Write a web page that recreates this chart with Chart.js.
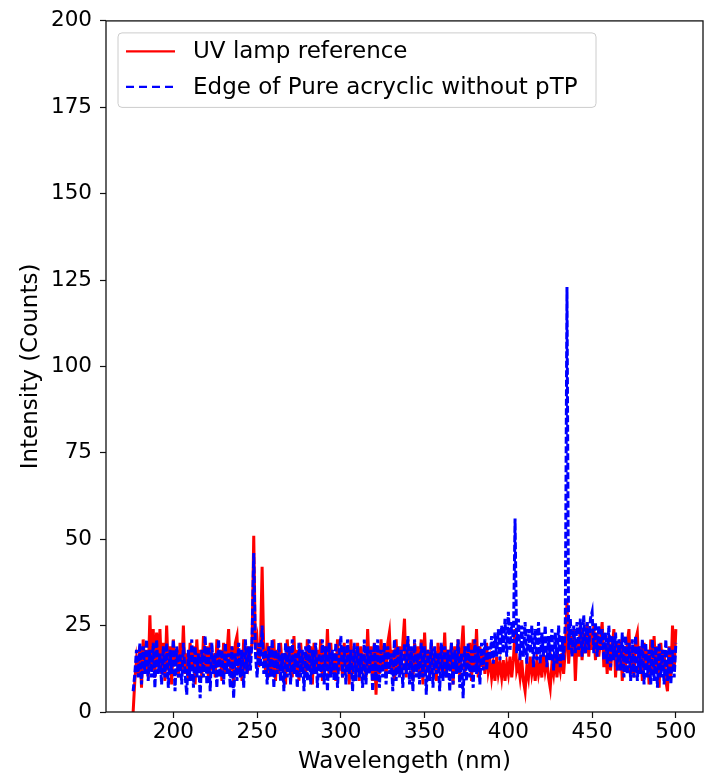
<!DOCTYPE html>
<html>
<head>
<meta charset="utf-8">
<title>UV lamp reference vs edge of pure acrylic</title>
<script src="https://cdn.jsdelivr.net/npm/chart.js@4.4.1/dist/chart.umd.min.js"></script>
<style>
  html, body { margin: 0; padding: 0; background: #fff; }
  #wrap { width: 713px; height: 774px; }
</style>
</head>
<body>
<div id="wrap"><canvas id="spectrum" width="713" height="774"></canvas></div>
<script>
// wavelength sampling of the spectrometer (nm), one value per nm from 176 to 500
const wlStart = 176;
const wlStep = 1;

// UV lamp reference, counts
const uvLamp = [
  0, 9, 15, 11, 19, 7, 21, 12, 18, 10,
  28, 12, 24, 10, 23, 13, 24, 11, 20, 9,
  25, 12, 19, 8, 21, 14, 18, 10, 20, 12,
  25, 11, 17, 9, 20, 13, 19, 8, 21, 12,
  18, 10, 22, 13, 19, 9, 20, 12, 17, 10,
  21, 13, 18, 9, 20, 11, 17, 24, 12, 19,
  8, 20, 22, 11, 18, 9, 21, 12, 19, 14,
  17, 20, 51, 18, 21, 13, 19, 42, 17, 12,
  20, 10, 19, 12, 21, 9, 18, 11, 20, 13,
  17, 8, 21, 12, 19, 10, 22, 11, 18, 9,
  20, 13, 17, 10, 21, 12, 19, 8, 20, 11,
  18, 13, 21, 9, 19, 12, 24, 10, 20, 11,
  17, 9, 21, 12, 18, 10, 20, 13, 19, 8,
  21, 11, 18, 12, 20, 9, 19, 13, 17, 10,
  24, 12, 19, 9, 20, 5, 18, 11, 21, 13,
  19, 10, 20, 23, 12, 18, 9, 21, 11, 19,
  12, 20, 27, 10, 21, 13, 18, 9, 20, 12,
  19, 11, 21, 8, 23, 12, 18, 10, 20, 13,
  17, 9, 20, 12, 19, 11, 23, 10, 18, 13,
  20, 8, 19, 12, 21, 10, 18, 25, 11, 19,
  13, 20, 9, 21, 12, 24, 10, 19, 13, 18,
  11, 20, 12, 15, 10, 14, 9, 16, 11, 14,
  10, 15, 9, 14, 11, 16, 10, 15, 24, 12,
  14, 10, 15, 9, 6, 13, 10, 16, 11, 14,
  9, 15, 11, 14, 10, 17, 12, 15, 10, 7,
  14, 11, 16, 10, 15, 12, 17, 11, 18, 32,
  14, 22, 17, 24, 9, 21, 16, 25, 15, 23,
  17, 26, 16, 24, 18, 25, 15, 23, 16, 21,
  26, 13, 20, 11, 22, 12, 19, 24, 10, 20,
  12, 21, 9, 19, 13, 20, 24, 11, 18, 10,
  21, 23, 12, 19, 9, 20, 13, 18, 8, 21,
  11, 22, 12, 19, 7, 20, 13, 18, 9, 6,
  19, 10, 25, 12, 24
];

// edge of pure acrylic without pTP, counts
const acrylicEdge = [
  6, 11, 18, 10, 20, 8, 19, 11, 21, 9,
  18, 10, 20, 7, 21, 11, 17, 8, 19, 10,
  20, 7, 18, 11, 21, 6, 19, 10, 17, 8,
  20, 11, 5, 18, 9, 21, 7, 19, 10, 17,
  4, 18, 10, 22, 8, 19, 6, 20, 11, 17,
  7, 21, 10, 18, 8, 20, 11, 17, 7, 19,
  4, 17, 9, 20, 10, 18, 7, 21, 11, 19,
  12, 21, 46, 17, 10, 20, 13, 25, 11, 18,
  8, 19, 10, 21, 7, 18, 11, 20, 9, 17,
  6, 20, 10, 19, 8, 21, 11, 17, 7, 20,
  10, 18, 6, 19, 9, 21, 8, 18, 11, 20,
  7, 17, 10, 21, 8, 19, 6, 20, 10, 18,
  9, 20, 7, 17, 22, 10, 19, 8, 21, 11,
  18, 6, 20, 9, 19, 10, 17, 7, 21, 8,
  19, 11, 18, 6, 20, 9, 21, 7, 18, 10,
  20, 8, 19, 11, 17, 6, 21, 9, 19, 10,
  18, 7, 20, 11, 22, 8, 19, 6, 21, 10,
  17, 8, 20, 10, 19, 5, 18, 9, 21, 7,
  19, 11, 17, 6, 20, 9, 19, 10, 18, 6,
  20, 8, 18, 11, 21, 7, 17, 4, 19, 9,
  20, 10, 18, 7, 21, 11, 19, 8, 20, 12,
  21, 12, 19, 15, 22, 14, 23, 16, 24, 15,
  25, 17, 27, 16, 29, 18, 26, 20, 56, 17,
  27, 15, 25, 16, 26, 14, 24, 17, 25, 13,
  24, 15, 26, 14, 23, 16, 25, 13, 22, 15,
  24, 12, 23, 14, 25, 13, 22, 15, 26, 123,
  18, 27, 16, 25, 17, 26, 18, 27, 16, 28,
  17, 26, 18, 27, 29, 17, 26, 16, 25, 18,
  24, 15, 23, 14, 25, 13, 22, 15, 23, 12,
  21, 12, 23, 10, 22, 11, 20, 9, 21, 10,
  22, 9, 19, 11, 21, 8, 20, 10, 18, 8,
  21, 9, 19, 7, 20, 10, 18, 8, 21, 9,
  19, 8, 18, 10, 20
];

const xTicks = [200, 250, 300, 350, 400, 450, 500];
const yTicks = [0, 25, 50, 75, 100, 125, 150, 175, 200];
const xRange = [159.8, 516.2];
const yRange = [0, 200];

const FONT = '"DejaVu Sans", "Liberation Sans", sans-serif';

function toPoints(values) {
  return values.map((v, i) => ({ x: wlStart + i * wlStep, y: v }));
}

// black box round the plot area, like the matplotlib spines
const frame = {
  id: 'frame',
  afterDatasetsDraw(chart) {
    const { ctx, chartArea: a } = chart;
    ctx.save();
    ctx.strokeStyle = '#111';
    ctx.lineWidth = 1.3;
    ctx.strokeRect(a.left, a.top, a.right - a.left, a.bottom - a.top);
    ctx.restore();
  }
};

// legend box drawn inside the axes, top left
const insideLegend = {
  id: 'insideLegend',
  afterDraw(chart) {
    const { ctx, chartArea: a } = chart;
    const x = a.left + 12, y = a.top + 12, w = 478, h = 74.5;
    ctx.save();
    ctx.beginPath();
    ctx.roundRect(x, y, w, h, 4);
    ctx.fillStyle = 'rgba(255,255,255,0.8)';
    ctx.fill();
    ctx.strokeStyle = '#cccccc';
    ctx.lineWidth = 1;
    ctx.stroke();
    ctx.font = '23px ' + FONT;
    ctx.textBaseline = 'middle';
    chart.data.datasets.forEach((ds, i) => {
      const rowY = y + 18.5 + i * 35.5;
      ctx.beginPath();
      ctx.setLineDash(ds.borderDash ? [8, 5] : []);
      ctx.strokeStyle = ds.borderColor;
      ctx.lineWidth = 2.2;
      ctx.moveTo(x + 8, rowY);
      ctx.lineTo(x + 57, rowY);
      ctx.stroke();
      ctx.setLineDash([]);
      ctx.fillStyle = '#000';
      ctx.fillText(ds.label, x + 75, rowY + 1);
    });
    ctx.restore();
  }
};

new Chart(document.getElementById('spectrum'), {
  type: 'line',
  data: {
    datasets: [
      {
        label: 'UV lamp reference',
        data: toPoints(uvLamp),
        borderColor: '#ff0000',
        borderWidth: 3,
        pointRadius: 0,
        fill: false,
        tension: 0,
        order: 2
      },
      {
        label: 'Edge of Pure acryclic without pTP',
        data: toPoints(acrylicEdge),
        borderColor: '#0000ff',
        borderWidth: 3,
        borderDash: [7, 2.5],
        pointRadius: 0,
        fill: false,
        tension: 0,
        order: 1
      }
    ]
  },
  options: {
    responsive: false,
    animation: false,
    events: [],
    layout: { padding: { top: 15, right: 10, left: 0, bottom: 0 } },
    plugins: {
      legend: { display: false },
      tooltip: { enabled: false }
    },
    scales: {
      x: {
        type: 'linear',
        min: xRange[0],
        max: xRange[1],
        afterBuildTicks: (s) => { s.ticks = xTicks.map(v => ({ value: v })); },
        afterFit: (s) => { s.height = 62; },
        grid: { display: true, drawOnChartArea: false, drawTicks: true, tickLength: 6, tickColor: '#111', tickWidth: 1.2 },
        border: { display: false },
        ticks: { color: '#000', padding: 2, font: { family: FONT, size: 21.5 }, callback: v => String(v), maxRotation: 0 },
        title: { display: true, text: 'Wavelengeth (nm)', color: '#000', font: { family: FONT, size: 23, lineHeight: 1 }, padding: { top: 0, bottom: 0 } }
      },
      y: {
        min: yRange[0],
        max: yRange[1],
        afterBuildTicks: (s) => { s.ticks = yTicks.map(v => ({ value: v })); },
        afterFit: (s) => { s.width = 106; },
        grid: { display: true, drawOnChartArea: false, drawTicks: true, tickLength: 6, tickColor: '#111', tickWidth: 1.2 },
        border: { display: false },
        ticks: { color: '#000', padding: 8, font: { family: FONT, size: 21.5 }, callback: v => String(v) },
        title: { display: true, text: 'Intensity (Counts)', color: '#000', font: { family: FONT, size: 23, lineHeight: 1 }, padding: { top: 19.5, bottom: 0 } }
      }
    }
  },
  plugins: [frame, insideLegend]
});
</script>
</body>
</html>
